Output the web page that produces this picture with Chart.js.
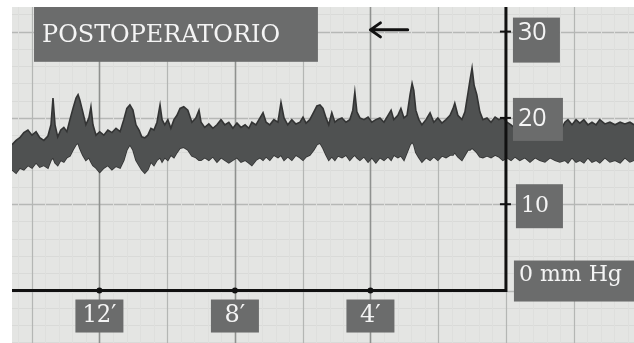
<!DOCTYPE html>
<html lang="es">
<head>
  <meta charset="UTF-8" />
  <title>Postoperatorio</title>
  <style>
    body, html {
      margin: 0;
      padding: 0;
      background: #fff;
    }
    canvas {
      display: block;
    }
  </style>
</head>
<body>

<canvas id="trace" width="634" height="343"></canvas>

<script src="https://cdn.jsdelivr.net/npm/chart.js"></script>
<script>
  // minutes before the vertical axis (negative = after it), and the trace envelope in mm Hg
  const minutes = [
    14.58, 14.46, 14.35, 14.23, 14.11, 13.99, 13.87, 13.76, 13.64, 13.52,
    13.43, 13.37, 13.31, 13.23, 13.14, 13.05, 12.96, 12.87, 12.78, 12.69,
    12.63, 12.58, 12.49, 12.40, 12.31, 12.25, 12.19, 12.10, 11.99, 11.87,
    11.75, 11.63, 11.51, 11.39, 11.28, 11.19, 11.10, 11.01, 10.92, 10.83,
    10.75, 10.66, 10.57, 10.48, 10.39, 10.30, 10.21, 10.15, 10.07, 9.98,
    9.89, 9.80, 9.71, 9.62, 9.51, 9.39, 9.27, 9.15, 9.06, 9.00,
    8.89, 8.77, 8.65, 8.53, 8.41, 8.30, 8.18, 8.06, 7.94, 7.82,
    7.70, 7.59, 7.50, 7.38, 7.26, 7.17, 7.08, 6.97, 6.85, 6.73,
    6.64, 6.55, 6.44, 6.32, 6.20, 6.08, 5.99, 5.90, 5.79, 5.67,
    5.58, 5.49, 5.40, 5.31, 5.23, 5.14, 5.05, 4.96, 4.84, 4.72,
    4.61, 4.52, 4.46, 4.40, 4.31, 4.19, 4.07, 3.96, 3.84, 3.72,
    3.60, 3.48, 3.39, 3.31, 3.19, 3.10, 3.01, 2.92, 2.83, 2.77,
    2.72, 2.66, 2.57, 2.48, 2.36, 2.24, 2.13, 2.01, 1.89, 1.77,
    1.65, 1.56, 1.51, 1.42, 1.30, 1.21, 1.12, 1.06, 1.00, 0.94,
    0.86, 0.77, 0.68, 0.56, 0.44, 0.32, 0.21, 0.09, -0.03, -0.15,
    -0.27, -0.41, -0.56, -0.71, -0.86, -1.00, -1.15, -1.30, -1.45, -1.59,
    -1.74, -1.83, -1.95, -2.07, -2.18, -2.30, -2.42, -2.54, -2.66, -2.77,
    -2.92, -3.07, -3.22, -3.37, -3.51, -3.66, -3.78
  ];
  const upperEnvelope = [
    16.9, 17.4, 17.7, 18.3, 18.6, 18.0, 18.4, 17.7, 17.4, 17.9,
    19.2, 22.3, 19.2, 17.8, 18.6, 18.9, 18.4, 19.8, 21.1, 22.3,
    22.7, 22.1, 20.7, 19.2, 20.0, 21.3, 19.2, 18.0, 18.4, 18.0,
    18.6, 18.3, 18.8, 18.4, 19.8, 21.1, 21.5, 20.9, 19.2, 18.6,
    17.8, 17.7, 18.0, 18.8, 18.6, 19.5, 21.5, 19.8, 19.2, 19.8,
    18.8, 19.8, 20.3, 21.1, 21.3, 20.9, 19.5, 20.0, 20.9, 19.5,
    18.9, 19.3, 18.8, 19.2, 19.8, 19.2, 19.5, 18.8, 19.4, 18.9,
    19.2, 18.8, 19.5, 19.2, 20.0, 20.6, 19.5, 19.2, 19.8, 19.5,
    21.8, 20.0, 19.2, 19.8, 19.3, 19.5, 20.1, 19.4, 19.8, 20.7,
    21.4, 21.5, 21.1, 20.0, 19.2, 20.6, 19.5, 19.8, 20.0, 19.5,
    19.8, 20.9, 23.0, 20.7, 20.0, 19.8, 20.1, 19.5, 19.8, 20.0,
    19.5, 20.3, 20.9, 19.8, 20.3, 21.1, 20.0, 20.3, 22.7, 24.0,
    23.2, 20.9, 19.8, 19.2, 19.8, 20.6, 19.5, 20.0, 19.4, 19.8,
    20.3, 21.1, 21.7, 20.3, 19.8, 20.7, 22.9, 24.4, 25.8, 23.8,
    22.7, 20.7, 19.8, 20.0, 19.5, 20.1, 19.8, 20.0, 19.5, 19.2,
    18.8, 18.6, 18.9, 18.6, 18.8, 18.6, 18.9, 18.6, 18.8, 18.4,
    19.5, 19.8, 19.2, 19.8, 19.4, 19.8, 19.2, 19.5, 19.2, 19.8,
    19.3, 19.5, 19.2, 19.5, 19.3, 19.5, 19.2
  ];
  const lowerEnvelope = [
    14.0, 13.6, 14.2, 14.0, 14.5, 14.2, 14.8, 14.3, 14.5, 14.2,
    15.1, 15.4, 14.8, 14.5, 15.1, 14.9, 15.4, 15.6, 16.3, 16.9,
    17.1, 16.5, 15.7, 15.1, 15.4, 14.9, 14.5, 14.2, 13.7, 14.2,
    14.5, 14.0, 14.4, 14.2, 15.1, 16.3, 16.9, 16.3, 15.1, 14.5,
    14.0, 13.6, 14.0, 14.9, 14.5, 15.1, 15.4, 14.9, 15.4, 15.1,
    15.7, 15.4, 16.0, 16.5, 16.6, 16.3, 15.6, 15.4, 15.1, 15.1,
    15.4, 15.1, 15.5, 14.9, 15.4, 15.1, 14.8, 15.1, 15.4, 14.9,
    15.1, 14.8, 14.5, 15.1, 15.4, 15.1, 15.5, 15.1, 15.7, 15.4,
    15.7, 15.1, 15.5, 15.1, 15.7, 15.4, 15.1, 15.5, 15.7, 16.3,
    16.9, 17.1, 16.5, 15.7, 15.1, 15.5, 15.1, 15.6, 15.4, 15.7,
    15.1, 15.5, 15.7, 15.4, 15.1, 15.5, 14.9, 15.4, 14.8, 15.4,
    15.1, 15.5, 15.1, 15.7, 15.4, 15.6, 15.1, 16.0, 16.9, 17.2,
    16.9, 16.0, 15.4, 14.9, 15.4, 15.1, 15.5, 15.1, 15.6, 15.4,
    15.7, 15.7, 16.0, 15.5, 15.1, 15.7, 16.3, 16.3, 16.5, 16.3,
    16.0, 15.5, 15.4, 15.6, 15.4, 15.7, 15.5, 15.1, 15.4, 15.1,
    15.5, 15.1, 15.4, 14.9, 15.4, 15.1, 14.9, 15.4, 15.1, 14.9,
    15.1, 14.8, 15.4, 14.9, 15.1, 14.8, 15.4, 14.9, 15.1, 14.8,
    15.4, 14.9, 15.1, 14.8, 15.4, 14.9, 15.1
  ];

  const title = 'POSTOPERATORIO';
  const xTickMinutes = [12, 8, 4];
  const xTickLabels = ['12\u2032', '8\u2032', '4\u2032'];
  const yTickValues = [30, 20, 10, 0];
  const yTickLabels = ['30', '20', '10', '0 mm Hg'];

  const paper = '#e4e5e3';
  const boxGray = '#6b6c6c';

  function drawBox(ctx, l, t, r, b, text, font, tx, ty, align, maxW) {
    ctx.fillStyle = boxGray;
    ctx.fillRect(l, t, r - l, b - t);
    ctx.fillStyle = '#f4f4f4';
    ctx.font = font;
    ctx.textAlign = align;
    ctx.textBaseline = 'middle';
    if (maxW) ctx.fillText(text, tx, ty, maxW);
    else ctx.fillText(text, tx, ty);
  }

  const stripPlugin = {
    id: 'strip',
    beforeDraw(chart) {
      const { ctx, chartArea: a } = chart;
      const xs = chart.scales.x, ys = chart.scales.y;
      ctx.save();
      ctx.fillStyle = '#fff';
      ctx.fillRect(0, 0, chart.width, chart.height);
      ctx.fillStyle = paper;
      ctx.fillRect(a.left, a.top, a.right - a.left, a.bottom - a.top);

      // paper grid: faint ruling, medium every 2 min / 10 mm Hg, dark at the labelled minutes
      for (let v = -6; v <= 32; v += 2) {
        const py = Math.round(ys.getPixelForValue(v)) + 0.5;
        const major = v % 10 === 0;
        ctx.strokeStyle = major ? '#b6b8b6' : '#d9dad8';
        ctx.lineWidth = major ? 1.3 : 1;
        ctx.beginPath();
        ctx.moveTo(a.left, py);
        ctx.lineTo(a.right, py);
        ctx.stroke();
      }
      for (let k = -9; k <= 36; k++) {
        const m = k * 0.4;
        const px = Math.round(xs.getPixelForValue(m)) + 0.5;
        if (px < a.left || px > a.right) continue;
        if (k % 5 === 0) {
          const strong = m > 0 && m % 4 === 0;
          ctx.strokeStyle = strong ? '#8f918f' : '#b4b6b4';
          ctx.lineWidth = strong ? 1.6 : 1.2;
        } else {
          ctx.strokeStyle = '#dedfdd';
          ctx.lineWidth = 1;
        }
        ctx.beginPath();
        ctx.moveTo(px, a.top);
        ctx.lineTo(px, a.bottom);
        ctx.stroke();
      }
      ctx.restore();
    },
    afterDatasetsDraw(chart) {
      const { ctx, chartArea: a } = chart;
      const xs = chart.scales.x, ys = chart.scales.y;
      const x0 = xs.getPixelForValue(0);
      const y0 = ys.getPixelForValue(0);
      ctx.save();

      // axes
      ctx.strokeStyle = '#111';
      ctx.lineWidth = 3;
      ctx.beginPath();
      ctx.moveTo(x0, a.top);
      ctx.lineTo(x0, y0);
      ctx.lineTo(a.left, y0);
      ctx.stroke();

      ctx.lineWidth = 2;
      yTickValues.forEach(v => {
        if (v === 0) return;
        const py = ys.getPixelForValue(v);
        ctx.beginPath();
        ctx.moveTo(x0 - 6, py);
        ctx.lineTo(x0 + 5, py);
        ctx.stroke();
      });
      ctx.fillStyle = '#111';
      xTickMinutes.forEach(m => {
        ctx.beginPath();
        ctx.arc(xs.getPixelForValue(m), y0, 3, 0, Math.PI * 2);
        ctx.fill();
      });

      // title box
      const tl = xs.getPixelForValue(13.93), tr = xs.getPixelForValue(5.55);
      const tb = ys.getPixelForValue(26.5);
      drawBox(ctx, tl, a.top, tr, tb, title, '25px "DejaVu Serif"', tl + 8, (a.top + tb) / 2 + 1, 'left', 238);

      // y labels
      const ySpec = [
        { dx: 7, w: 47, up: 14, down: 31, font: '25px "Open Sans"', dy: 1 },
        { dx: 7, w: 50, up: 20, down: 23, font: '25px "Open Sans"', dy: 1 },
        { dx: 10, w: 47, up: 20, down: 24, font: '22px "DejaVu Serif"', dy: 2 },
        { dx: 8, w: null, up: 30, down: 11, font: '22px "DejaVu Serif"', dy: -15 }
      ];
      yTickValues.forEach((v, i) => {
        const s = ySpec[i];
        const py = ys.getPixelForValue(v);
        const l = x0 + s.dx;
        const r = s.w ? l + s.w : a.right;
        drawBox(ctx, l, py - s.up, r, py + s.down, yTickLabels[i], s.font, l + 5, py + s.dy, 'left', r - l - 6);
      });

      // x labels
      xTickMinutes.forEach((m, i) => {
        const px = xs.getPixelForValue(m);
        drawBox(ctx, px - 24, y0 + 9, px + 24, y0 + 42, xTickLabels[i], '24px "DejaVu Serif"', px, y0 + 25, 'center', 34);
      });

      // arrow
      const ax = xs.getPixelForValue(4.0), bx = xs.getPixelForValue(2.9);
      const ay = ys.getPixelForValue(30.2);
      ctx.strokeStyle = '#111';
      ctx.lineWidth = 3;
      ctx.lineCap = 'round';
      ctx.lineJoin = 'round';
      ctx.beginPath();
      ctx.moveTo(bx, ay);
      ctx.lineTo(ax, ay);
      ctx.moveTo(ax + 10, ay - 7);
      ctx.lineTo(ax, ay);
      ctx.lineTo(ax + 10, ay + 7);
      ctx.stroke();

      ctx.restore();
    }
  };

  const ctx = document.getElementById('trace').getContext('2d');
  new Chart(ctx, {
    type: 'line',
    data: {
      datasets: [{
        label: 'upper',
        data: minutes.map((m, i) => ({ x: m, y: upperEnvelope[i] })),
        borderColor: '#333434',
        borderWidth: 1.6,
        backgroundColor: '#4f5151',
        fill: '+1',
        pointRadius: 0,
        tension: 0
      }, {
        label: 'lower',
        data: minutes.map((m, i) => ({ x: m, y: lowerEnvelope[i] })),
        borderColor: '#333434',
        borderWidth: 1.6,
        fill: false,
        pointRadius: 0,
        tension: 0
      }]
    },
    options: {
      responsive: false,
      animation: false,
      layout: { padding: { left: 12, top: 7, right: 0, bottom: 0 } },
      plugins: {
        legend: { display: false },
        tooltip: { enabled: false }
      },
      scales: {
        x: { type: 'linear', reverse: true, min: -3.78, max: 14.58, display: false },
        y: { type: 'linear', min: -6.08, max: 32.85, display: false }
      }
    },
    plugins: [stripPlugin]
  });
</script>
</body>
</html>
